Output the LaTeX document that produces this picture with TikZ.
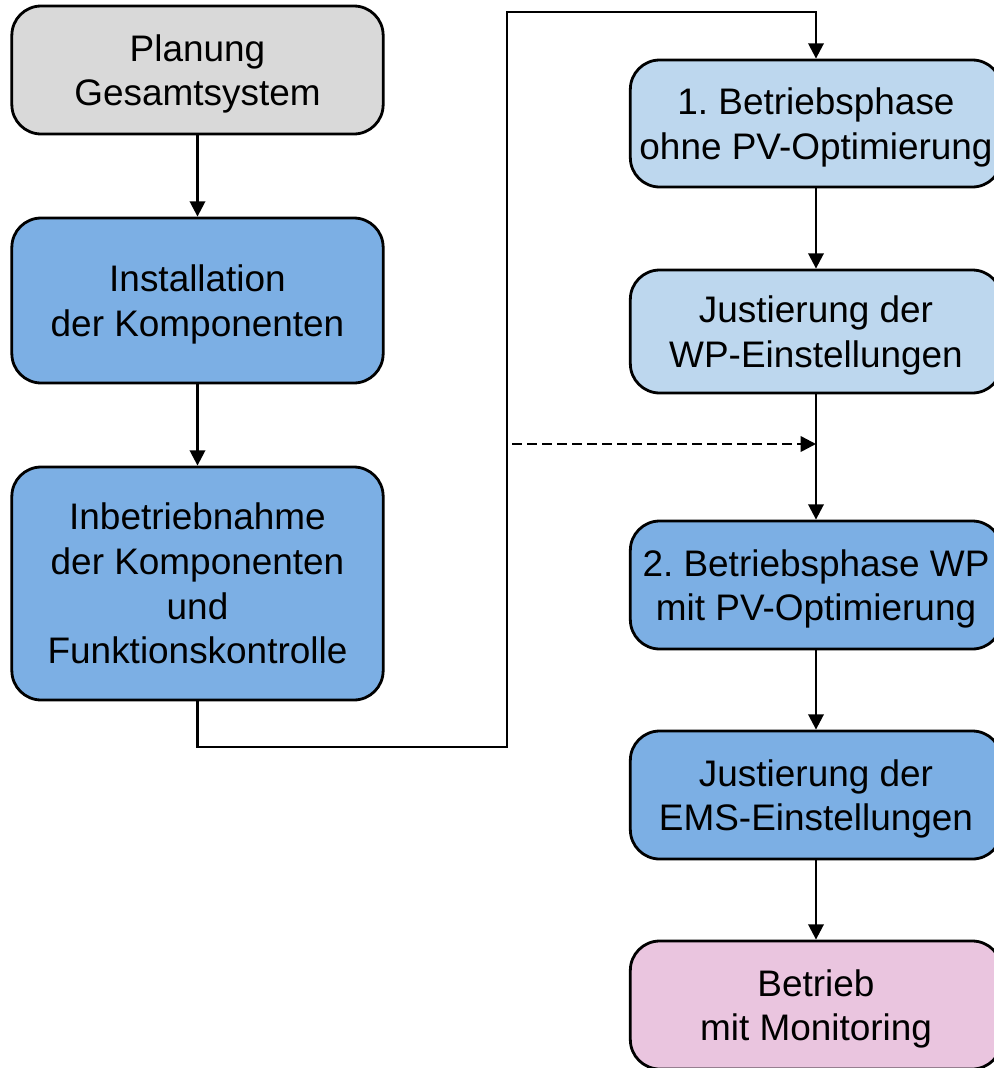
\documentclass[tikz,border=0pt]{standalone}
\usepackage{fontspec}
\setmainfont{Liberation Sans}
\usetikzlibrary{arrows.meta}
\definecolor{boxgray}{RGB}{217,217,217}
\definecolor{boxlight}{RGB}{189,215,238}
\definecolor{boxblue}{RGB}{124,175,228}
\definecolor{boxpink}{RGB}{234,197,223}
\tikzset{
  box/.style={draw=black, line width=2.1pt, rounded corners=22pt, align=center,
    minimum width=278.5pt, inner sep=0pt, text depth=0pt,
    font=\fontsize{27.7}{33.5}\selectfont},
  conn/.style={draw=black, line width=1.9pt},
  arr/.style={conn, -{Triangle[length=11.5pt,width=11.5pt]}},
  darr/.style={arr, dash pattern=on 7.5pt off 3.75pt},
}
\begin{document}
\frenchspacing
\begin{tikzpicture}[x=0.75pt,y=-0.75pt]
\useasboundingbox (0,0) rectangle (994,1068);
% left column
\node[box, fill=boxgray, minimum height=96pt] (plan) at (197.5,70) {Planung\\Gesamtsystem};
\node[box, fill=boxblue, minimum height=123.75pt] (inst) at (197.5,300.5) {Installation\\der Komponenten};
\node[box, fill=boxblue, minimum height=174.75pt] (inb) at (197.5,583.5) {Inbetriebnahme\\der Komponenten\\und\\Funktionskontrolle};
% right column
\node[box, fill=boxlight, minimum height=95.25pt] (b1) at (816,123.5) {1. Betriebsphase\\ohne PV-Optimierung};
\node[box, fill=boxlight, minimum height=92.25pt] (j1) at (816,331.5) {Justierung der\\WP-Einstellungen};
\node[box, fill=boxblue, minimum height=96pt] (b2) at (816,585) {2. Betriebsphase WP\\mit PV-Optimierung};
\node[box, fill=boxblue, minimum height=96pt] (j2) at (816,795) {Justierung der\\EMS-Einstellungen};
\node[box, fill=boxpink, minimum height=96pt] (b3) at (816,1005) {Betrieb\\mit Monitoring};
% connectors
\draw[arr] (plan) -- (inst);
\draw[arr] (inst) -- (inb);
\coordinate (c1) at (507,747);
\coordinate (c2) at (507,12);
\draw[arr] (inb.south) |- (c1) -- (c2) -| (b1.north);
\draw[arr] (b1) -- (j1);
\draw[arr] (j1) -- (b2);
\draw[arr] (b2) -- (j2);
\draw[arr] (j2) -- (b3);
\coordinate (d0) at (512,444);
\coordinate (d1) at (816,444);
\draw[darr] (d0) -- (d1);
\end{tikzpicture}
\end{document}
